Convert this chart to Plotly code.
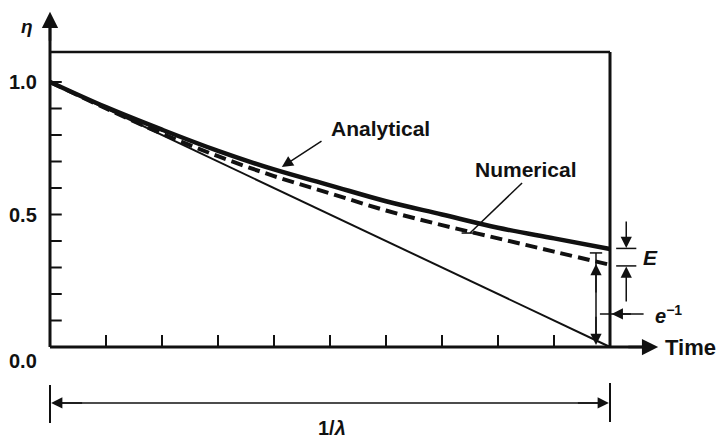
import plotly.graph_objects as go

# ---- data ----
t_values = [0.0, 0.1, 0.2, 0.3, 0.4, 0.5, 0.6, 0.7, 0.8, 0.9, 1.0]
analytical = [1.0, 0.905, 0.82, 0.74, 0.67, 0.61, 0.55, 0.50, 0.45, 0.41, 0.37]
numerical = [1.0, 0.90, 0.805, 0.72, 0.645, 0.58, 0.515, 0.46, 0.41, 0.36, 0.31]
linear_t = [0.0, 1.0]
linear_eta = [1.0, 0.0]
y_tick_vals = [0.0, 0.5, 1.0]
y_tick_text = ["0.0", "0.5", "1.0"]
y_minor = [0.1, 0.2, 0.3, 0.4, 0.5, 0.6, 0.7, 0.8, 0.9, 1.0]
x_minor = [0.1, 0.2, 0.3, 0.4, 0.5, 0.6, 0.7, 0.8, 0.9]

FONT = "Liberation Sans, Arial, sans-serif"
BLACK = "#111111"

fig = go.Figure()
fig.add_trace(go.Scatter(x=linear_t, y=linear_eta, mode="lines",
                         line=dict(color=BLACK, width=2), showlegend=False))
fig.add_trace(go.Scatter(x=t_values, y=numerical, mode="lines", line_shape="spline",
                         line=dict(color=BLACK, width=4, dash="12px,6px"), showlegend=False))
fig.add_trace(go.Scatter(x=t_values, y=analytical, mode="lines", line_shape="spline",
                         line=dict(color=BLACK, width=4.5), showlegend=False))

shapes = []
def seg(x0, y0, x1, y1, w=2):
    shapes.append(dict(type="line", xref="x", yref="y", x0=x0, y0=y0, x1=x1, y1=y1,
                       line=dict(color=BLACK, width=w)))

# axes
seg(0, 0, 0, 1.24, 3)
seg(0, 0, 1.06, 0, 3)
# box top and right
seg(0, 1.113, 1.0, 1.113, 2.5)
seg(1.0, 0, 1.0, 1.113, 3)
# minor ticks
for yv in y_minor:
    seg(0, yv, 0.021, yv, 2)
for xv in x_minor:
    seg(xv, 0, xv, 0.045, 2)

# bottom dimension bars
seg(0, -0.143, 0, -0.287, 2)
seg(1.0, -0.136, 1.0, -0.283, 2)
seg(0.01, -0.211, 0.99, -0.211, 1.5)

# numerical pointer line
seg(0.843, 0.619, 0.75, 0.43, 1.5)
seg(0.735, 0.43, 0.765, 0.43, 1.5)

# vertical numerical-value arrow
seg(0.975, 0.355, 0.975, 0.02, 1.5)
seg(0.964, 0.355, 0.986, 0.355, 1.5)

# E markers
seg(1.011, 0.372, 1.047, 0.372, 1.5)
seg(1.011, 0.306, 1.047, 0.306, 1.5)

# e^-1 pointer
seg(0.982, 0.125, 1.06, 0.125, 1.5)

annotations = []
def arrow(x, y, ax, ay, size=1.2, w=1.5):
    annotations.append(dict(x=x, y=y, ax=ax, ay=ay, xref="x", yref="y", axref="x", ayref="y",
                            text="", showarrow=True, arrowhead=2, arrowsize=size,
                            arrowwidth=w, arrowcolor=BLACK, standoff=0, startstandoff=0,
                            font=dict(family=FONT, size=12, color=BLACK)))

def label(x, y, text, size=20, xanchor="center", bold=True):
    annotations.append(dict(x=x, y=y, xref="x", yref="y",
                            text=f"<b>{text}</b>" if bold else text, showarrow=False,
                            xanchor=xanchor, yanchor="middle",
                            font=dict(family=FONT, size=size, color=BLACK)))

# axis arrowheads
arrow(0, 1.265, 0, 1.15, size=1.3, w=2.5)
arrow(1.086, 0, 1.03, 0, size=1.3, w=2.5)
# dimension arrowheads
arrow(0.002, -0.211, 0.06, -0.211, size=1.5, w=1.5)
arrow(0.998, -0.211, 0.94, -0.211, size=1.5, w=1.5)
# analytical pointer
arrow(0.414, 0.679, 0.4875, 0.781, size=1.5, w=1.5)
# vertical numerical arrow heads
arrow(0.975, 0.313, 0.975, 0.2, size=1.5, w=1.5)
arrow(0.975, 0.008, 0.975, 0.12, size=1.5, w=1.5)
# E arrows
arrow(1.029, 0.374, 1.029, 0.479, size=1.5, w=1.5)
arrow(1.029, 0.304, 1.029, 0.166, size=1.5, w=1.5)
# e^-1 arrowhead
arrow(1.003, 0.125, 1.04, 0.125, size=1.5, w=1.5)

# tick labels
for v, txt in zip(y_tick_vals, y_tick_text):
    yy = v if v > 0 else -0.053
    label(-0.048, yy, txt, size=20)

label(-0.041, 1.211, "<i>η</i>", size=19)
label(0.591, 0.826, "Analytical", size=21)
label(0.85, 0.668, "Numerical", size=21)
label(1.143, 0.0, "Time", size=22)
label(1.072, 0.336, "<i>E</i>", size=21)
label(1.104, 0.122, "<i>e</i><sup>−1</sup>", size=20)
label(0.504, -0.306, "1/<i>λ</i>", size=20)

fig.update_layout(
    width=723, height=443,
    margin=dict(l=0, r=0, t=0, b=0),
    paper_bgcolor="white", plot_bgcolor="white",
    xaxis=dict(range=[-50/560, 673/560], visible=False, fixedrange=True),
    yaxis=dict(range=[-96/265, 347/265], visible=False, fixedrange=True),
    shapes=shapes, annotations=annotations,
)

fig.write_html("out.html", config={"displayModeBar": False},
               post_script="document.body.style.margin='0';document.body.style.overflow='hidden';")
